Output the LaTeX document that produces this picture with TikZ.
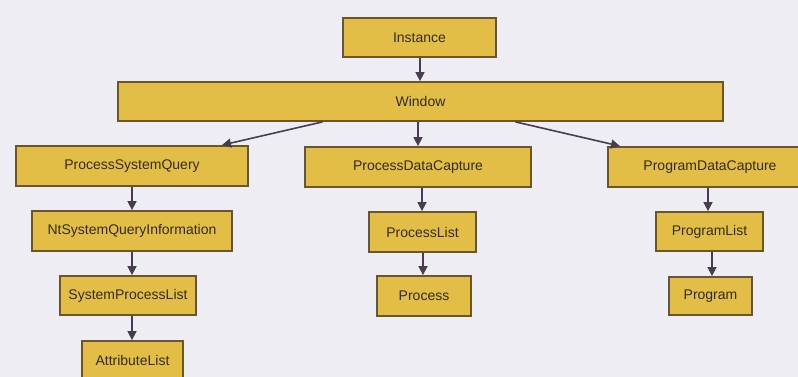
\documentclass[tikz,border=0pt]{standalone}
\usepackage{fontspec}
\setmainfont{Liberation Sans}
\usetikzlibrary{arrows.meta}
\definecolor{bg}{HTML}{EDEDF3}
\definecolor{boxfill}{HTML}{E2BE46}
\definecolor{boxedge}{HTML}{6A5532}
\definecolor{ink}{HTML}{342D20}
\definecolor{wire}{HTML}{463E4C}
\tikzset{
  cls/.style={draw=boxedge, line width=1.8pt, fill=boxfill, inner sep=0pt,
    text=ink, font=\fontsize{14}{16}\selectfont, align=center},
  link/.style={draw=wire, line width=1.6pt, -{Triangle[length=9pt,width=9pt]}}
}
\begin{document}
\begin{tikzpicture}[x=1pt,y=1pt]
  % page area and backdrop
  \fill[bg] (0,0) rectangle (798,377);
  \useasboundingbox (0,0) rectangle (798,377);

  % classes, centred at (x, 377 - y)
  \node[cls, minimum width=153pt, minimum height=39pt] (inst)  at (419.5,339.5) {Instance};
  \node[cls, minimum width=605pt, minimum height=39pt] (win)   at (420.5,275.5) {Window};
  \node[cls, minimum width=232pt, minimum height=40pt] (psq)   at (132,211)     {ProcessSystemQuery};
  \node[cls, minimum width=200pt, minimum height=40pt] (ntq)   at (132,146)     {NtSystemQueryInformation};
  \node[cls, minimum width=136pt, minimum height=39pt] (spl)   at (128,81.5)    {SystemProcessList};
  \node[cls, minimum width=101pt, minimum height=39pt] (attr)  at (132.5,16.5)  {AttributeList};
  \node[cls, minimum width=226pt, minimum height=40pt] (pdc)   at (418,210)     {ProcessDataCapture};
  \node[cls, minimum width=107pt, minimum height=40pt] (plist) at (422.5,145)   {ProcessList};
  \node[cls, minimum width=94pt,  minimum height=40pt] (proc)  at (424,81)      {Process};
  \node[cls, minimum width=204pt, minimum height=40pt] (gdc)   at (710,210)     {ProgramDataCapture};
  \node[cls, minimum width=107pt, minimum height=39pt] (glist) at (709.5,145.5) {ProgramList};
  \node[cls, minimum width=83pt,  minimum height=38pt] (prog)  at (710.5,81)    {Program};

  % connectors
  \draw[link] ([xshift=0.5pt]inst.south) -- ([xshift=0.5pt]inst.south |- win.north);
  \draw[link] ([xshift=-98pt]win.south) -- ([xshift=90pt]psq.north);
  \draw[link] (win.south -| pdc.north) -- (pdc.north);
  \draw[link] ([xshift=95pt]win.south) -- ([xshift=-90pt]gdc.north);

  \draw[link] (psq.south) -- (psq.south |- ntq.north);
  \draw[link] (ntq.south) -- (ntq.south |- spl.north);
  \draw[link] (ntq.south |- spl.south) -- (ntq.south |- attr.north);

  \draw[link] ([xshift=4pt]pdc.south) -- ([xshift=4pt]pdc.south |- plist.north);
  \draw[link] ([xshift=0.5pt]plist.south) -- ([xshift=0.5pt]plist.south |- proc.north);

  \draw[link] ([xshift=-2pt]gdc.south) -- ([xshift=-2pt]gdc.south |- glist.north);
  \draw[link] ([xshift=2.5pt]glist.south) -- ([xshift=2.5pt]glist.south |- prog.north);
\end{tikzpicture}
\end{document}
